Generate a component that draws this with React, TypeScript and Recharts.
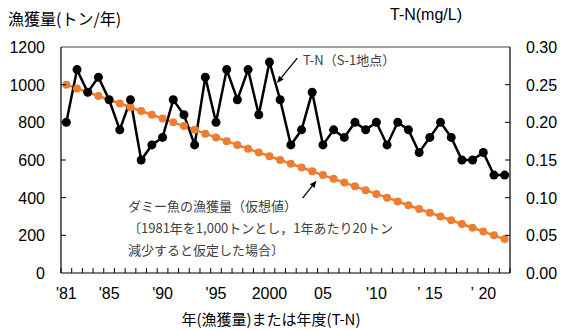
import React from 'react';
import { LineChart, Line, XAxis, YAxis, ReferenceLine } from 'recharts';

const years = [
  1981, 1982, 1983, 1984, 1985, 1986, 1987, 1988, 1989, 1990,
  1991, 1992, 1993, 1994, 1995, 1996, 1997, 1998, 1999, 2000,
  2001, 2002, 2003, 2004, 2005, 2006, 2007, 2008, 2009, 2010,
  2011, 2012, 2013, 2014, 2015, 2016, 2017, 2018, 2019, 2020,
  2021, 2022,
];

// dummy fish catch (t/year)
const catchTons = [
  1000, 980, 960, 940, 920, 900, 880, 860, 840, 820,
  800, 780, 760, 740, 720, 700, 680, 660, 640, 620,
  600, 580, 560, 540, 520, 500, 480, 460, 440, 420,
  400, 380, 360, 340, 320, 300, 280, 260, 240, 220,
  200, 180,
];

// T-N at S-1 (mg/L)
const tnValues = [
  0.20, 0.27, 0.24, 0.26, 0.23, 0.19, 0.23, 0.15, 0.17, 0.18,
  0.23, 0.21, 0.17, 0.26, 0.20, 0.27, 0.23, 0.27, 0.21, 0.28,
  0.23, 0.17, 0.19, 0.24, 0.17, 0.19, 0.18, 0.20, 0.19, 0.20,
  0.17, 0.20, 0.19, 0.16, 0.18, 0.20, 0.18, 0.15, 0.15, 0.16,
  0.13, 0.13,
];

const labelYears = [1981, 1985, 1990, 1995, 2000, 2005, 2010, 2015, 2020];
const labelTexts = ["'81", "'85", "'90", "'95", '2000', '05', "'10", '\u2019\u00a015', '\u2019\u00a020'];

const leftTicks = [0, 200, 400, 600, 800, 1000, 1200];
const rightTicks = [0, 0.05, 0.1, 0.15, 0.2, 0.25, 0.3];

const data = years.map((year, i) => ({ year, catch: catchTons[i], tn: tnValues[i] }));

// tick marks sit on the category boundaries, labels on the years
const boundaryTicks = years.map((y) => y - 0.5).concat(years[years.length - 1] + 0.5);
const xTicks = [...boundaryTicks, ...labelYears].sort((a, b) => a - b);
const labelMap: Record<number, string> = {};
labelYears.forEach((y, i) => (labelMap[y] = labelTexts[i]));

const FONT = '"Liberation Sans", Arial, "Noto Sans CJK JP", sans-serif';
const JP = '"Noto Sans CJK JP", "Noto Sans", sans-serif';
const ORANGE = '#ED7D31';

const XTick = (props: any) => {
  const { x, y, payload } = props;
  const v = payload.value;
  if (!Number.isInteger(v)) {
    return <line x1={x} y1={y} x2={x} y2={y - 5} stroke="#000" strokeWidth={1} />;
  }
  return (
    <text x={x} y={y + 26} textAnchor="middle" fontSize={16} fontFamily={FONT} fill="#000">
      {labelMap[v]}
    </text>
  );
};

const LeftTick = (props: any) => {
  const { x, y, payload } = props;
  return (
    <g>
      {payload.value > 0 && payload.value < 1200 && (
        <line x1={x} y1={y} x2={x + 5} y2={y} stroke="#000" strokeWidth={1} />
      )}
      <text x={x - 16} y={y + 6} textAnchor="end" fontSize={16} fontFamily={FONT} fill="#000">
        {payload.value}
      </text>
    </g>
  );
};

const RightTick = (props: any) => {
  const { x, y, payload } = props;
  return (
    <g>
      {payload.value > 0 && payload.value < 0.3 && (
        <line x1={x} y1={y} x2={x - 5} y2={y} stroke="#000" strokeWidth={1} />
      )}
      <text x={x + 16} y={y + 6} textAnchor="start" fontSize={16} fontFamily={FONT} fill="#000">
        {Number(payload.value).toFixed(2)}
      </text>
    </g>
  );
};

const Arrow = (props: any) => {
  const { x1, y1, x2, y2 } = props;
  const a = Math.atan2(y2 - y1, x2 - x1);
  const len = 7;
  const w = 3;
  const bx = x2 - len * Math.cos(a);
  const by = y2 - len * Math.sin(a);
  const px = -Math.sin(a) * w;
  const py = Math.cos(a) * w;
  return (
    <g>
      <line x1={x1} y1={y1} x2={bx} y2={by} stroke="#000" strokeWidth={1.3} />
      <polygon points={`${x2},${y2} ${bx + px},${by + py} ${bx - px},${by - py}`} fill="#000" />
    </g>
  );
};

const note: React.CSSProperties = {
  position: 'absolute',
  fontFamily: JP,
  fontSize: 13,
  color: '#404040',
  whiteSpace: 'nowrap',
  lineHeight: '22px',
};

export default function App() {
  return (
    <div style={{ position: 'absolute', left: 0, top: 0, width: 584, height: 331, background: '#fff' }}>
      <LineChart width={584} height={331} data={data} margin={{ top: 47, right: 0, bottom: 0, left: 0 }}>
        <XAxis
          dataKey="year"
          type="number"
          domain={[1980.5, 2022.5]}
          ticks={xTicks}
          interval={0}
          height={58}
          tickSize={0}
          tickMargin={0}
          tickLine={false}
          axisLine={{ stroke: '#000', strokeWidth: 1.2 }}
          tick={<XTick />}
        />
        <YAxis
          yAxisId="left"
          domain={[0, 1200]}
          ticks={leftTicks}
          width={61}
          interval={0}
          tickSize={0}
          tickMargin={0}
          tickLine={false}
          axisLine={{ stroke: '#000', strokeWidth: 1.2 }}
          tick={<LeftTick />}
        />
        <YAxis
          yAxisId="right"
          orientation="right"
          domain={[0, 0.3]}
          ticks={rightTicks}
          width={74}
          interval={0}
          tickSize={0}
          tickMargin={0}
          tickLine={false}
          axisLine={{ stroke: '#000', strokeWidth: 1.2 }}
          tick={<RightTick />}
        />
        <ReferenceLine yAxisId="left" y={1200} stroke="#7f7f7f" strokeWidth={1.5} />
        <Line
          yAxisId="left"
          type="linear"
          dataKey="catch"
          stroke={ORANGE}
          strokeWidth={2.5}
          dot={{ r: 4, fill: ORANGE, stroke: 'none' }}
          isAnimationActive={false}
        />
        <Line
          yAxisId="right"
          type="linear"
          dataKey="tn"
          stroke="#000"
          strokeWidth={2.5}
          dot={{ r: 4.5, fill: '#000', stroke: 'none' }}
          isAnimationActive={false}
        />
        <ReferenceLine
          yAxisId="left"
          segment={[{ x: 2002.6, y: 1141 }, { x: 2000.7, y: 1009 }]}
          shape={Arrow}
          ifOverflow="visible"
        />
        <ReferenceLine
          yAxisId="left"
          segment={[{ x: 2003.1, y: 398 }, { x: 2004.4, y: 490 }]}
          shape={Arrow}
          ifOverflow="visible"
        />
      </LineChart>

      <div style={{ position: 'absolute', left: 8, top: 6, fontFamily: JP, fontSize: 16, color: '#000', whiteSpace: 'nowrap' }}>
        漁獲量(トン/年)
      </div>
      <div style={{ position: 'absolute', left: 390, top: 6, fontFamily: FONT, fontSize: 16, color: '#000', whiteSpace: 'nowrap' }}>
        T-N(mg/L)
      </div>
      <div style={{ position: 'absolute', left: 0, width: 542, top: 310, lineHeight: '18px', textAlign: 'center', fontFamily: JP, fontSize: 15, color: '#000', whiteSpace: 'nowrap' }}>
        年(漁獲量)または年度(T-N)
      </div>
      <div style={{ ...note, left: 303, top: 49 }}>T-N（S-1地点）</div>
      <div style={{ ...note, left: 128, top: 195 }}>
        ダミー魚の漁獲量（仮想値）
        <br />
        〔1981年を1,000トンとし，1年あたり20トン
        <br />
        減少すると仮定した場合〕
      </div>
    </div>
  );
}
